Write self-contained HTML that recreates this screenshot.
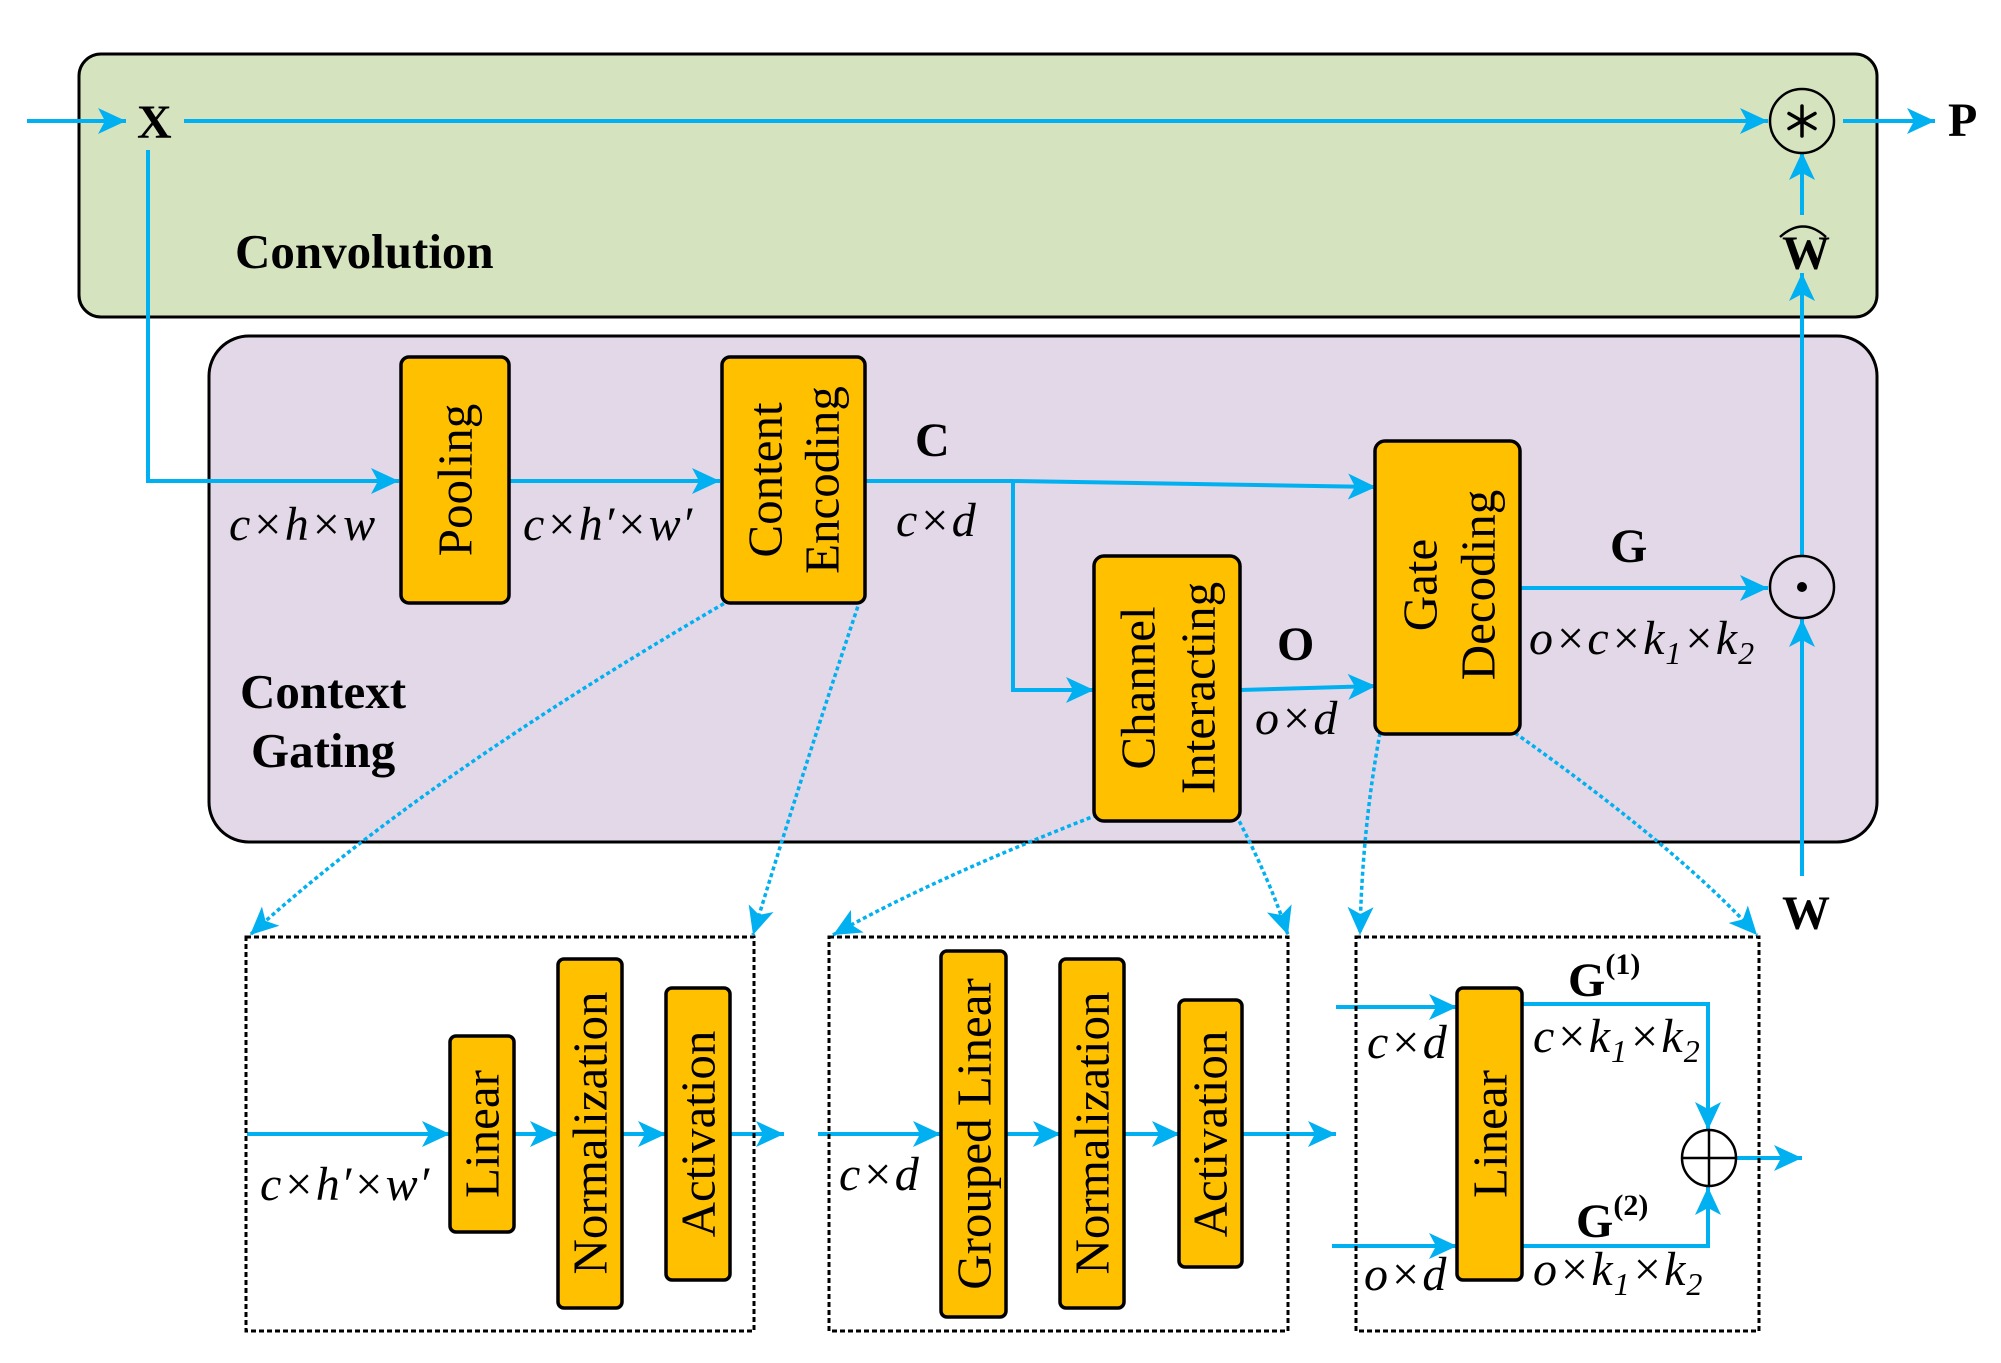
<!DOCTYPE html>
<html><head><meta charset="utf-8"><style>
html,body{margin:0;padding:0;background:#fff;}
svg{display:block;}
text{font-family:"Liberation Serif",serif;}
.b{font-weight:bold;}
.i{font-style:italic;}
</style></head><body>
<svg width="2001" height="1363" viewBox="0 0 2001 1363" xmlns="http://www.w3.org/2000/svg">
<defs>
<marker id="a" markerUnits="userSpaceOnUse" markerWidth="30" markerHeight="26" refX="28" refY="13" orient="auto">
<path d="M0,0 L28,13 L0,26 L7,13 z" fill="#00b0f0"/>
</marker>
</defs>
<rect x="79" y="54" width="1798" height="263" rx="22" fill="#d6e3bf" stroke="#000" stroke-width="3"/>
<rect x="209" y="336" width="1668" height="506" rx="40" fill="#e2d8e7" stroke="#000" stroke-width="3"/>

<g stroke="#00b0f0" stroke-width="4" fill="none">
<line x1="27" y1="121" x2="126" y2="121" marker-end="url(#a)"/>
<line x1="184" y1="121" x2="1768" y2="121" marker-end="url(#a)"/>
<line x1="1843" y1="121" x2="1935" y2="121" marker-end="url(#a)"/>
<line x1="1802" y1="215" x2="1802" y2="152" marker-end="url(#a)"/>
<line x1="1802" y1="555" x2="1802" y2="273" marker-end="url(#a)"/>
<line x1="1802" y1="876" x2="1802" y2="619" marker-end="url(#a)"/>
<polyline points="148,150 148,481 399,481" marker-end="url(#a)"/>
<line x1="509" y1="481" x2="720" y2="481" marker-end="url(#a)"/>
<polyline points="865,481 1013,481 1376,487" marker-end="url(#a)"/>
<polyline points="1013,481 1013,690 1094,690" marker-end="url(#a)"/>
<line x1="1240" y1="690" x2="1376" y2="686" marker-end="url(#a)"/>
<line x1="1520" y1="588" x2="1768" y2="588" marker-end="url(#a)"/>
<line x1="247" y1="1134" x2="450" y2="1134" marker-end="url(#a)"/>
<line x1="514" y1="1134" x2="558" y2="1134" marker-end="url(#a)"/>
<line x1="622" y1="1134" x2="666" y2="1134" marker-end="url(#a)"/>
<line x1="730" y1="1134" x2="784" y2="1134" marker-end="url(#a)"/>
<line x1="818" y1="1134" x2="941" y2="1134" marker-end="url(#a)"/>
<line x1="1006" y1="1134" x2="1061" y2="1134" marker-end="url(#a)"/>
<line x1="1125" y1="1134" x2="1180" y2="1134" marker-end="url(#a)"/>
<line x1="1242" y1="1134" x2="1336" y2="1134" marker-end="url(#a)"/>
<line x1="1336" y1="1007" x2="1457" y2="1007" marker-end="url(#a)"/>
<line x1="1332" y1="1246" x2="1457" y2="1246" marker-end="url(#a)"/>
<polyline points="1522,1004 1708,1004 1708,1130" marker-end="url(#a)"/>
<polyline points="1522,1246 1708,1246 1708,1187" marker-end="url(#a)"/>
<line x1="1736" y1="1158" x2="1802" y2="1158" marker-end="url(#a)"/>
</g>
<g stroke="#00b0f0" stroke-width="3.5" fill="none" stroke-dasharray="4 3">
<path d="M730,600 Q420,780 250,935" marker-end="url(#a)"/>
<path d="M860,600 Q800,780 753,935" marker-end="url(#a)"/>
<path d="M1097,815 Q930,880 833,935" marker-end="url(#a)"/>
<path d="M1236,815 Q1270,880 1288,935" marker-end="url(#a)"/>
<path d="M1380,733 Q1362,830 1360,935" marker-end="url(#a)"/>
<path d="M1515,733 Q1680,850 1757,935" marker-end="url(#a)"/>
</g>
<g stroke="#000" stroke-width="3" fill="none" stroke-dasharray="5 3">
<rect x="246" y="937" width="508" height="394"/>
<rect x="829" y="937" width="459" height="394"/>
<rect x="1356" y="937" width="403" height="394"/>
</g>
<g fill="none" stroke="#000" stroke-width="2.5">
<circle cx="1802" cy="121" r="32"/>
<ellipse cx="1802" cy="587" rx="32" ry="31"/>
<ellipse cx="1709" cy="1158" rx="27" ry="28"/>
<line x1="1682" y1="1158" x2="1736" y2="1158"/>
<line x1="1709" y1="1130" x2="1709" y2="1186"/>
<path d="M1780,237 Q1803,216 1826,237"/>
</g>
<g stroke="#000" stroke-width="3.5" stroke-linecap="round">
<line x1="1802" y1="106" x2="1802" y2="136"/>
<line x1="1789" y1="113.5" x2="1815" y2="128.5"/>
<line x1="1789" y1="128.5" x2="1815" y2="113.5"/>
</g>
<circle cx="1802" cy="587" r="5" fill="#000"/>
<g fill="#ffc000" stroke="#000" stroke-width="3.5">
<rect x="401" y="357" width="108" height="246" rx="8"/>
<rect x="722" y="357" width="143" height="246" rx="8"/>
<rect x="1094" y="556" width="146" height="265" rx="10"/>
<rect x="1375" y="441" width="145" height="293" rx="10"/>
<rect x="450" y="1036" width="64" height="196" rx="6"/>
<rect x="558" y="959" width="64" height="349" rx="6"/>
<rect x="666" y="988" width="64" height="292" rx="6"/>
<rect x="941" y="951" width="65" height="366" rx="6"/>
<rect x="1060" y="959" width="64" height="349" rx="6"/>
<rect x="1179" y="1000" width="63" height="267" rx="6"/>
<rect x="1457" y="988" width="65" height="292" rx="6"/>
</g>
<g font-size="49" text-anchor="middle" dominant-baseline="central">
<text transform="translate(455,480) rotate(-90)">Pooling</text>
<text transform="translate(765,480) rotate(-90)">Content</text>
<text transform="translate(822,480) rotate(-90)">Encoding</text>
<text transform="translate(1138,688) rotate(-90)">Channel</text>
<text transform="translate(1198,688) rotate(-90)">Interacting</text>
<text transform="translate(1420,585) rotate(-90)">Gate</text>
<text transform="translate(1478,585) rotate(-90)">Decoding</text>
<text transform="translate(482,1134) rotate(-90)">Linear</text>
<text transform="translate(590,1133) rotate(-90)">Normalization</text>
<text transform="translate(698,1134) rotate(-90)">Activation</text>
<text transform="translate(974,1134) rotate(-90)">Grouped Linear</text>
<text transform="translate(1092,1133) rotate(-90)">Normalization</text>
<text transform="translate(1210,1134) rotate(-90)">Activation</text>
<text transform="translate(1490,1134) rotate(-90)">Linear</text>
</g>
<g class="b" font-size="48">
<text x="137" y="138">X</text>
<text x="1948" y="136">P</text>
<text x="1782" y="269">W</text>
<text x="235" y="268" font-size="49">Convolution</text>
<text x="240" y="708" font-size="49">Context</text>
<text x="251" y="767" font-size="49">Gating</text>
<text x="915" y="456">C</text>
<text x="1277" y="660">O</text>
<text x="1610" y="562">G</text>
<text x="1782" y="929">W</text>
<text x="1568" y="996">G<tspan font-size="30" dy="-22">(1)</tspan></text>
<text x="1576" y="1237">G<tspan font-size="30" dy="-22">(2)</tspan></text>
</g>
<g class="i" font-size="48" letter-spacing="1">
<text x="229" y="540">c×h×w</text>
<text x="523" y="540">c×h′×w′</text>
<text x="896" y="536">c×d</text>
<text x="1255" y="734">o×d</text>
<text x="1529" y="654">o×c×k<tspan font-size="32" dy="10">1</tspan><tspan dy="-10">×k</tspan><tspan font-size="32" dy="10">2</tspan></text>
<text x="260" y="1200">c×h′×w′</text>
<text x="839" y="1190">c×d</text>
<text x="1367" y="1058">c×d</text>
<text x="1364" y="1290">o×d</text>
<text x="1533" y="1052">c×k<tspan font-size="32" dy="10">1</tspan><tspan dy="-10">×k</tspan><tspan font-size="32" dy="10">2</tspan></text>
<text x="1533" y="1285">o×k<tspan font-size="32" dy="10">1</tspan><tspan dy="-10">×k</tspan><tspan font-size="32" dy="10">2</tspan></text>
</g>
</svg>
</body></html>
